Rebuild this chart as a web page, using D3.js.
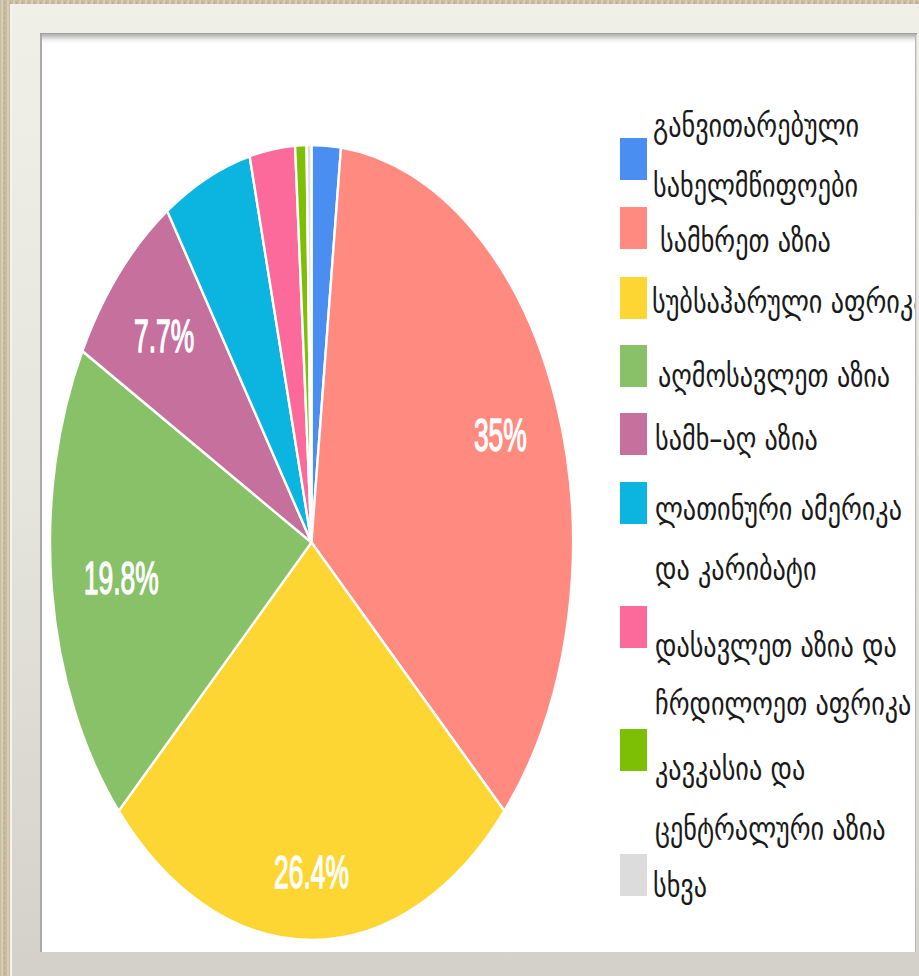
<!DOCTYPE html>
<html><head><meta charset="utf-8">
<script src="https://cdn.jsdelivr.net/npm/d3@7"></script>
<style>html,body{margin:0;padding:0;background:#cbbfa7;overflow:hidden}</style>
</head><body>
<script>
// ---------- data ----------
const categories = [
  "განვითარებული სახელმწიფოები",
  "სამხრეთ აზია",
  "სუბსაჰარული აფრიკა",
  "აღმოსავლეთ აზია",
  "სამხ–აღ აზია",
  "ლათინური ამერიკა და კარიბატი",
  "დასავლეთ აზია და ჩრდილოეთ აფრიკა",
  "კავკასია და ცენტრალური აზია",
  "სხვა"
];
const legendLines = [
  ["განვითარებული", "სახელმწიფოები"],
  ["სამხრეთ აზია"],
  ["სუბსაჰარული აფრიკა"],
  ["აღმოსავლეთ აზია"],
  ["სამხ–აღ აზია"],
  ["ლათინური ამერიკა", "და კარიბატი"],
  ["დასავლეთ აზია და", "ჩრდილოეთ აფრიკა"],
  ["კავკასია და", "ცენტრალური აზია"],
  ["სხვა"]
];
const values = [1.8, 35.0, 26.4, 19.8, 7.7, 5.5, 2.8, 0.7, 0.3];
const colors = ["#4a8ef2", "#fe8a80", "#fdd633", "#88c167", "#c6709d", "#0cb4e0", "#fb6a9b", "#7dbf05", "#dcdcdc"];

// ---------- layout ----------
const W = 919, H = 976;
const SY = 1.52;                 // vertical stretch of the whole chart
const cx = 311.5, cy = 542.5, R = 261.5;
const swatchTop = [138, 207, 277, 345, 413, 482, 606, 729, 854];
const lineBase = [[137, 197], [252], [313], [387], [450], [520, 580], [657, 715], [780, 840], [897]];
const lineX = [653, 660, 652, 658, 655, 655, 655, 655, 653];

const svg = d3.select("body").append("svg").attr("width", W).attr("height", H);
const defs = svg.append("defs");

const pat = defs.append("pattern").attr("id", "tex").attr("width", 6).attr("height", 5).attr("patternUnits", "userSpaceOnUse");
pat.append("rect").attr("width", 6).attr("height", 5).attr("fill", "#c9bb9f");
pat.append("rect").attr("x", 1).attr("width", 2).attr("height", 5).attr("fill", "#d6ccb8");
pat.append("rect").attr("x", 4).attr("y", 2).attr("width", 1).attr("height", 2).attr("fill", "#b8a98c");

const fg = defs.append("linearGradient").attr("id", "frameG").attr("x1", 0).attr("y1", 0).attr("x2", 0).attr("y2", 1);
fg.append("stop").attr("offset", 0).attr("stop-color", "#f1f0e8");
fg.append("stop").attr("offset", 0.5).attr("stop-color", "#e6e5dd");
fg.append("stop").attr("offset", 1).attr("stop-color", "#d3d1c9");

const sg = defs.append("linearGradient").attr("id", "shadowG").attr("x1", 0).attr("y1", 0).attr("x2", 0).attr("y2", 1);
sg.append("stop").attr("offset", 0).attr("stop-color", "#aaaaaa");
sg.append("stop").attr("offset", 1).attr("stop-color", "#ffffff").attr("stop-opacity", 0);

defs.append("clipPath").attr("id", "panelClip").append("rect")
  .attr("x", 42).attr("y", 34).attr("width", 873).attr("height", 918);

svg.append("rect").attr("width", W).attr("height", H).attr("fill", "url(#tex)");
svg.append("rect").attr("x", 10).attr("y", 4).attr("width", W - 10).attr("height", H - 4).attr("fill", "url(#frameG)");
svg.append("rect").attr("x", 10).attr("y", 4).attr("width", 2).attr("height", H - 4).attr("fill", "#f4f3ee");
// panel
svg.append("rect").attr("x", 40).attr("y", 33).attr("width", 877).attr("height", 919).attr("fill", "#ffffff");
svg.append("rect").attr("x", 40).attr("y", 33).attr("width", 2).attr("height", 919).attr("fill", "#a9a9a9");
svg.append("rect").attr("x", 915).attr("y", 33).attr("width", 1.5).attr("height", 919).attr("fill", "#b5b5b5");
svg.append("rect").attr("x", 40).attr("y", 33).attr("width", 877).attr("height", 1.5).attr("fill", "#9d9d9d");
svg.append("rect").attr("x", 42).attr("y", 34.5).attr("width", 873).attr("height", 10).attr("fill", "url(#shadowG)");

const root = svg.append("g").attr("clip-path", "url(#panelClip)");

// ---------- pie ----------
const pie = d3.pie().sort(null).value(d => d)(values);
const arc = d3.arc().innerRadius(0).outerRadius(R);
const pg = root.append("g").attr("transform", `translate(${cx},${cy}) scale(1,${SY})`);
pg.selectAll("path.slice").data(pie).join("path").attr("class", "slice")
  .attr("d", arc).attr("fill", (d, i) => colors[i])
  .attr("stroke", "#fff").attr("stroke-width", 2.4).attr("vector-effect", "non-scaling-stroke");

const fmt = v => (Math.round(v * 10) / 10) + "%";
const total = d3.sum(values);
const FS = 30, SX = 0.88, CAP = 0.716 * FS;
pie.forEach((d, i) => {
  const pct = d.value / total * 100;
  if (pct < 7) return;
  const t = pg.append("text").text(fmt(pct))
    .attr("font-family", "Liberation Sans, Arial, sans-serif").attr("font-size", FS)
    .attr("fill", "#fff").attr("stroke", "#fff").attr("stroke-width", 0.9)
    .attr("text-anchor", "middle");
  const w = t.node().getComputedTextLength() * SX;
  const a = (d.startAngle + d.endAngle) / 2;
  const ux = Math.sin(a), uy = -Math.cos(a);
  const target = 0.88 * R;
  let lo = 0, hi = R;
  for (let k = 0; k < 40; k++) {
    const m = (lo + hi) / 2;
    const far = Math.hypot(Math.abs(m * ux) + w / 2, Math.abs(m * uy) + CAP / 2);
    if (far > target) hi = m; else lo = m;
  }
  t.attr("transform", `translate(${lo * ux},${lo * uy + CAP / 2}) scale(${SX},1)`);
});

// ---------- legend ----------
const LSX = 1.19;
const lg = root.append("g").attr("transform", `scale(1,${SY})`);
categories.forEach((c, i) => {
  lg.append("rect").attr("x", 620).attr("y", swatchTop[i] / SY).attr("width", 27).attr("height", 42 / SY)
    .attr("fill", colors[i]);
  legendLines[i].forEach((ln, j) => {
    lg.append("text")
      .attr("transform", `translate(${lineX[i]},${lineBase[i][j] / SY}) scale(${LSX},1)`)
      .attr("font-family", "DejaVu Sans, sans-serif").attr("font-size", 22)
      .attr("fill", "#1a1a1a").text(ln);
  });
});
</script>
</body></html>
